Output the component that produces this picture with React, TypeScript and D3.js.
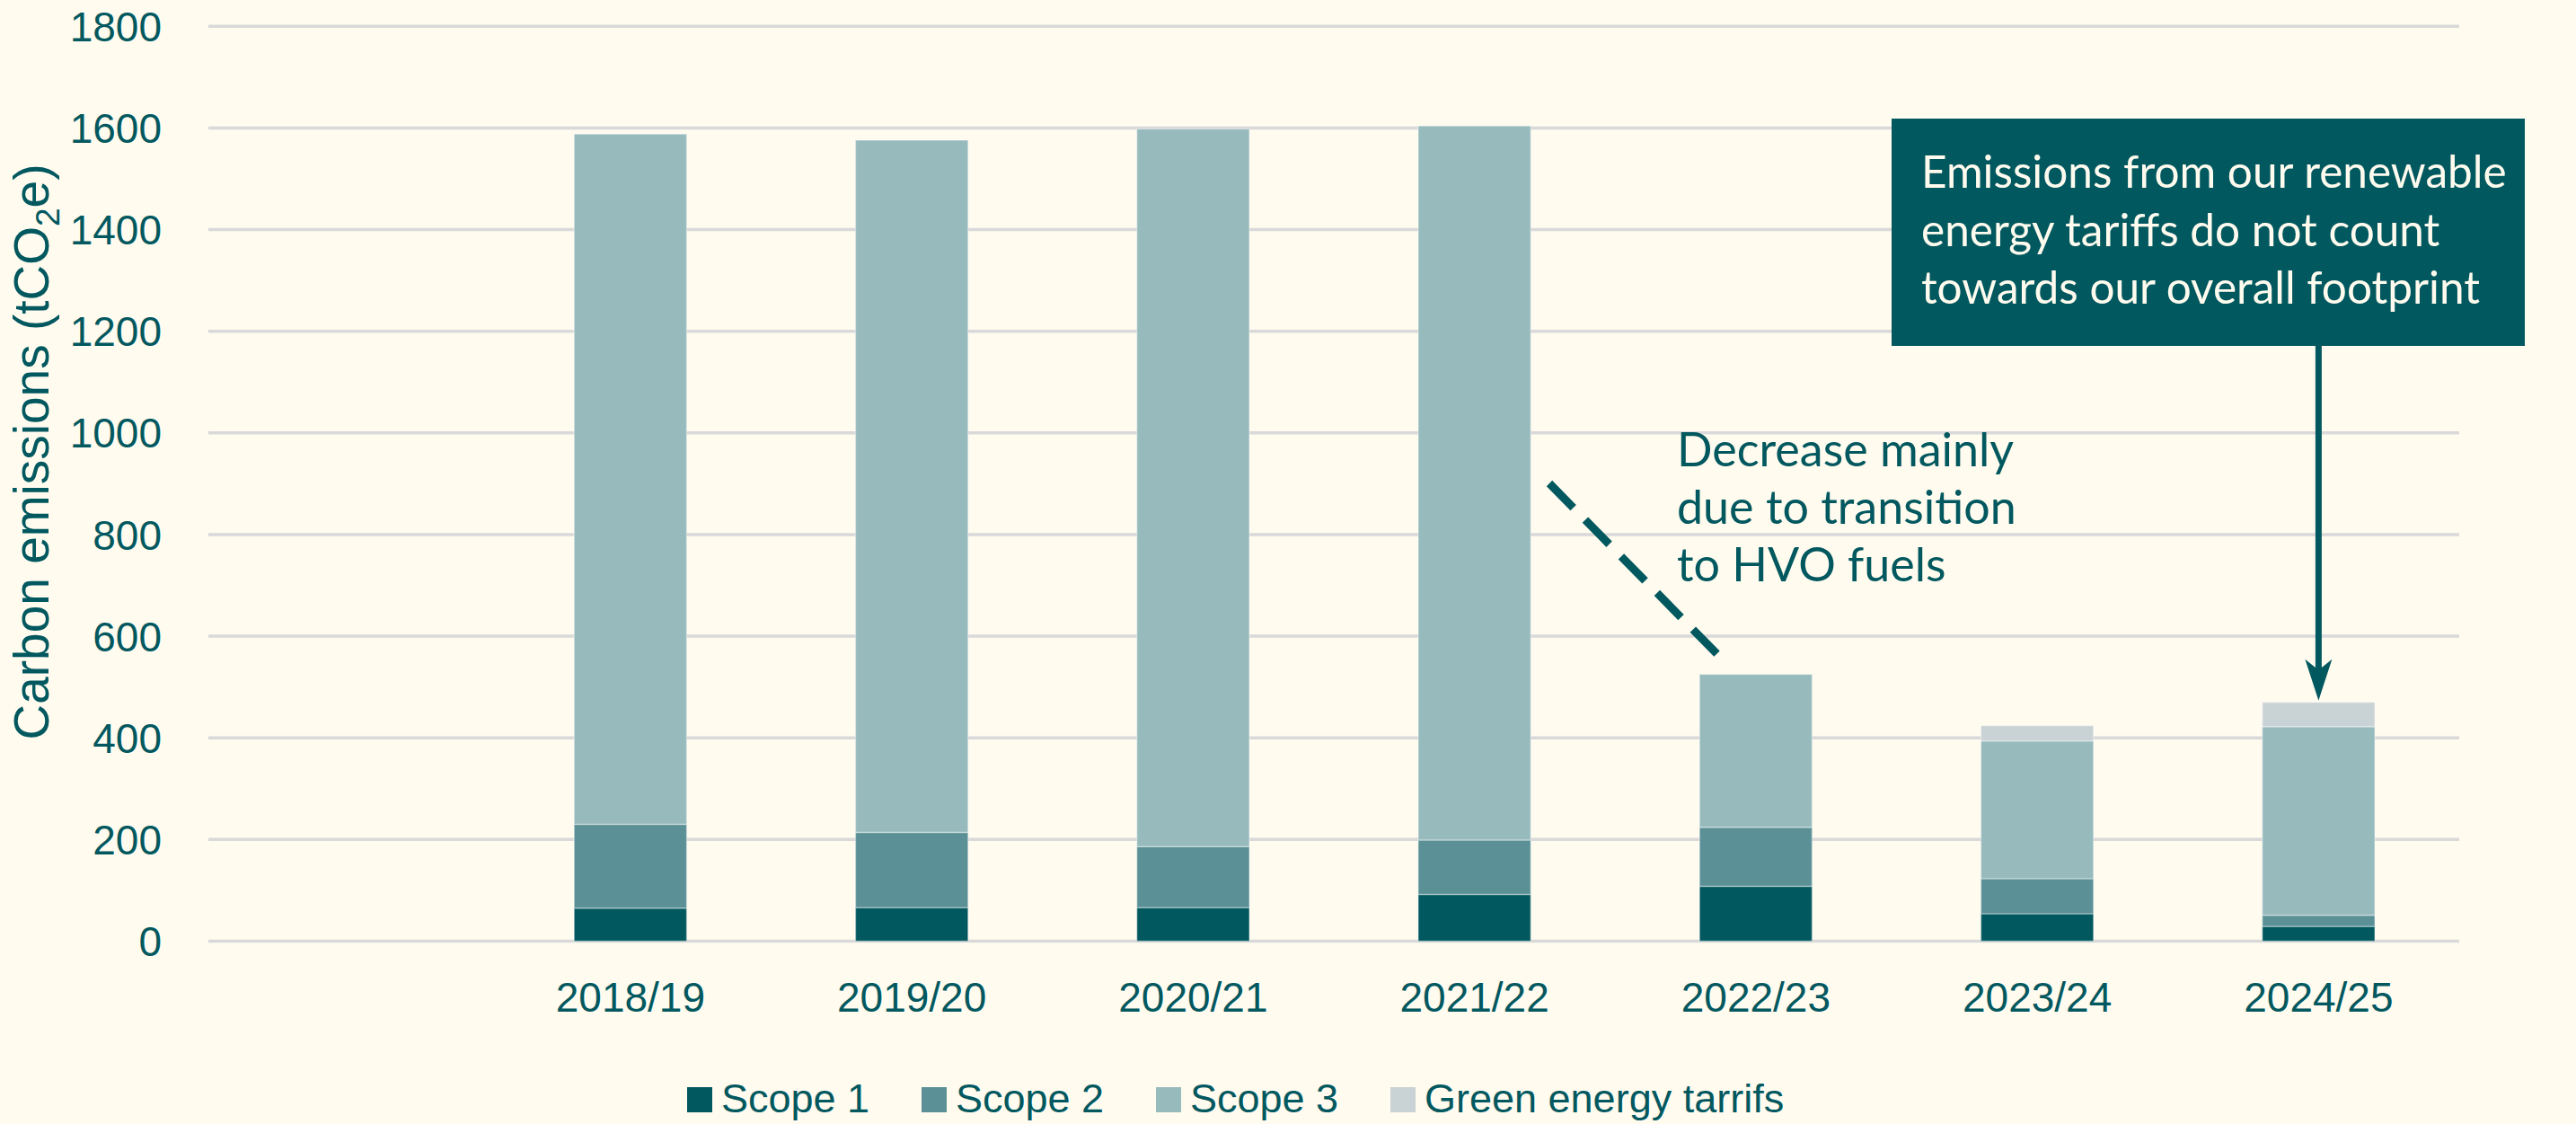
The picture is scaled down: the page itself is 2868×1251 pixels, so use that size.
import * as d3 from "d3";
import { useEffect, useRef } from "react";

const CATEGORIES = ["", "2018/19", "2019/20", "2020/21", "2021/22", "2022/23", "2023/24", "2024/25"];
const SCOPE_1 = [0, 65, 66, 66, 92, 108, 54, 29];
const SCOPE_2 = [0, 165, 148, 120, 107, 116, 69, 22];
const SCOPE_3 = [0, 1358, 1362, 1412, 1405, 301, 271, 371];
const GREEN_TARIFFS = [0, 0, 0, 0, 0, 0, 30, 48];

const SERIES = ["Scope 1", "Scope 2", "Scope 3", "Green energy tarrifs"];
const Y_TICKS = [0, 200, 400, 600, 800, 1000, 1200, 1400, 1600, 1800];

const COLORS = ["#02585f", "#5a9096", "#97babd", "#c9d2d4"];
const BG = "#fffbef";
const TEAL = "#02585f";
const GRID = "#d9d9d9";

const W = 2868;
const H = 1251;
const PLOT = { left: 232, right: 2738, top: 29.3, bottom: 1047.5 };

const BOX_LINES = [
  "Emissions from our renewable",
  "energy tariffs do not count",
  "towards our overall footprint",
];
const NOTE_LINES = ["Decrease mainly", "due to transition", "to HVO fuels"];

export default function App() {
  const svgRef = useRef<SVGSVGElement>(null);

  useEffect(() => {
    document.body.style.margin = "0";
    const svg = d3.select(svgRef.current);
    svg.selectAll("*").remove();
    svg.attr("width", W).attr("height", H);

    svg.append("rect").attr("width", W).attr("height", H).attr("fill", BG);

    const x = d3.scaleBand<string>()
      .domain(CATEGORIES)
      .range([PLOT.left, PLOT.right])
      .paddingInner(0.6)
      .paddingOuter(0.3);

    const y = d3.scaleLinear().domain([0, 1800]).range([PLOT.bottom, PLOT.top]);

    // gridlines
    svg.append("g")
      .selectAll("line")
      .data(Y_TICKS)
      .join("line")
      .attr("x1", PLOT.left)
      .attr("x2", PLOT.right)
      .attr("y1", (d) => y(d))
      .attr("y2", (d) => y(d))
      .attr("stroke", GRID)
      .attr("stroke-width", 3.5);

    // y tick labels
    svg.append("g")
      .selectAll("text")
      .data(Y_TICKS)
      .join("text")
      .attr("x", 180)
      .attr("y", (d) => y(d))
      .attr("dy", "0.36em")
      .attr("text-anchor", "end")
      .style("font-family", "'Liberation Sans', Arial, sans-serif")
      .style("font-size", "46px")
      .style("fill", TEAL)
      .text((d) => String(d));

    // stacked bars
    const rows = CATEGORIES.map((c, i) => ({
      cat: c,
      s1: SCOPE_1[i],
      s2: SCOPE_2[i],
      s3: SCOPE_3[i],
      g: GREEN_TARIFFS[i],
    }));
    const keys = ["s1", "s2", "s3", "g"];
    const stacked = d3.stack<any>().keys(keys)(rows);

    svg.append("g")
      .selectAll("g")
      .data(stacked)
      .join("g")
      .attr("fill", (_, i) => COLORS[i])
      .selectAll("rect")
      .data((d) => d.filter((p) => p[1] - p[0] > 0))
      .join("rect")
      .attr("x", (d) => x(d.data.cat)!)
      .attr("width", x.bandwidth())
      .attr("y", (d) => y(d[1]))
      .attr("height", (d) => y(d[0]) - y(d[1]))
      .attr("stroke", "rgba(255,255,255,0.35)")
      .attr("stroke-width", 1.5);

    // category labels
    svg.append("g")
      .selectAll("text")
      .data(CATEGORIES.filter((c) => c))
      .join("text")
      .attr("x", (d) => x(d)! + x.bandwidth() / 2)
      .attr("y", 1126)
      .attr("text-anchor", "middle")
      .style("font-family", "'Liberation Sans', Arial, sans-serif")
      .style("font-size", "46px")
      .style("fill", TEAL)
      .text((d) => d);

    // y axis title
    const yt = svg.append("text")
      .attr("transform", `translate(54,503) rotate(-90)`)
      .attr("text-anchor", "middle")
      .style("font-family", "'Liberation Sans', Arial, sans-serif")
      .style("font-size", "55px")
      .style("fill", TEAL);
    yt.append("tspan").text("Carbon emissions (tCO");
    yt.append("tspan").attr("dy", 12).style("font-size", "37px").text("2");
    yt.append("tspan").attr("dy", -12).text("e)");

    // legend
    const legend = svg.append("g")
      .selectAll("g")
      .data(SERIES)
      .join("g")
      .attr("transform", (_, i) => `translate(${765 + i * 261},0)`);
    legend.append("rect")
      .attr("x", 0)
      .attr("y", 1210)
      .attr("width", 28)
      .attr("height", 28)
      .attr("fill", (_, i) => COLORS[i]);
    legend.append("text")
      .attr("x", 38)
      .attr("y", 1238)
      .style("font-family", "'Liberation Sans', Arial, sans-serif")
      .style("font-size", "45px")
      .style("fill", TEAL)
      .text((d) => d);

    const annoFont = "Lato, 'Open Sans', sans-serif";

    // dashed annotation line toward 2022/23
    const c22 = x("2022/23")!;
    svg.append("line")
      .attr("x1", 1725)
      .attr("y1", 538)
      .attr("x2", c22 + 25)
      .attr("y2", y(SCOPE_1[5] + SCOPE_2[5] + SCOPE_3[5]) - 17)
      .attr("stroke", TEAL)
      .attr("stroke-width", 9)
      .attr("stroke-dasharray", "38 19");

    svg.append("g")
      .selectAll("text")
      .data(NOTE_LINES)
      .join("text")
      .attr("x", 1867)
      .attr("y", (_, i) => 519 + i * 64)
      .style("font-family", annoFont)
      .style("font-size", "52px")
      .style("fill", TEAL)
      .text((d) => d);

    // callout box + arrow toward 2024/25
    svg.append("rect")
      .attr("x", 2106)
      .attr("y", 132)
      .attr("width", 705)
      .attr("height", 253)
      .attr("fill", TEAL);

    svg.append("g")
      .selectAll("text")
      .data(BOX_LINES)
      .join("text")
      .attr("x", 2139)
      .attr("y", (_, i) => 209 + i * 64.5)
      .style("font-family", annoFont)
      .style("font-size", "49.5px")
      .style("fill", BG)
      .text((d) => d);

    const ax = x("2024/25")! + x.bandwidth() / 2;
    const tipY = y(SCOPE_1[7] + SCOPE_2[7] + SCOPE_3[7] + GREEN_TARIFFS[7]) - 2;
    svg.append("line")
      .attr("x1", ax)
      .attr("x2", ax)
      .attr("y1", 385)
      .attr("y2", tipY - 30)
      .attr("stroke", TEAL)
      .attr("stroke-width", 7);
    svg.append("path")
      .attr("d", `M${ax},${tipY} L${ax - 15},${tipY - 46} L${ax},${tipY - 34} L${ax + 15},${tipY - 46} Z`)
      .attr("fill", TEAL);
  }, []);

  return <svg ref={svgRef} style={{ display: "block" }}></svg>;
}
